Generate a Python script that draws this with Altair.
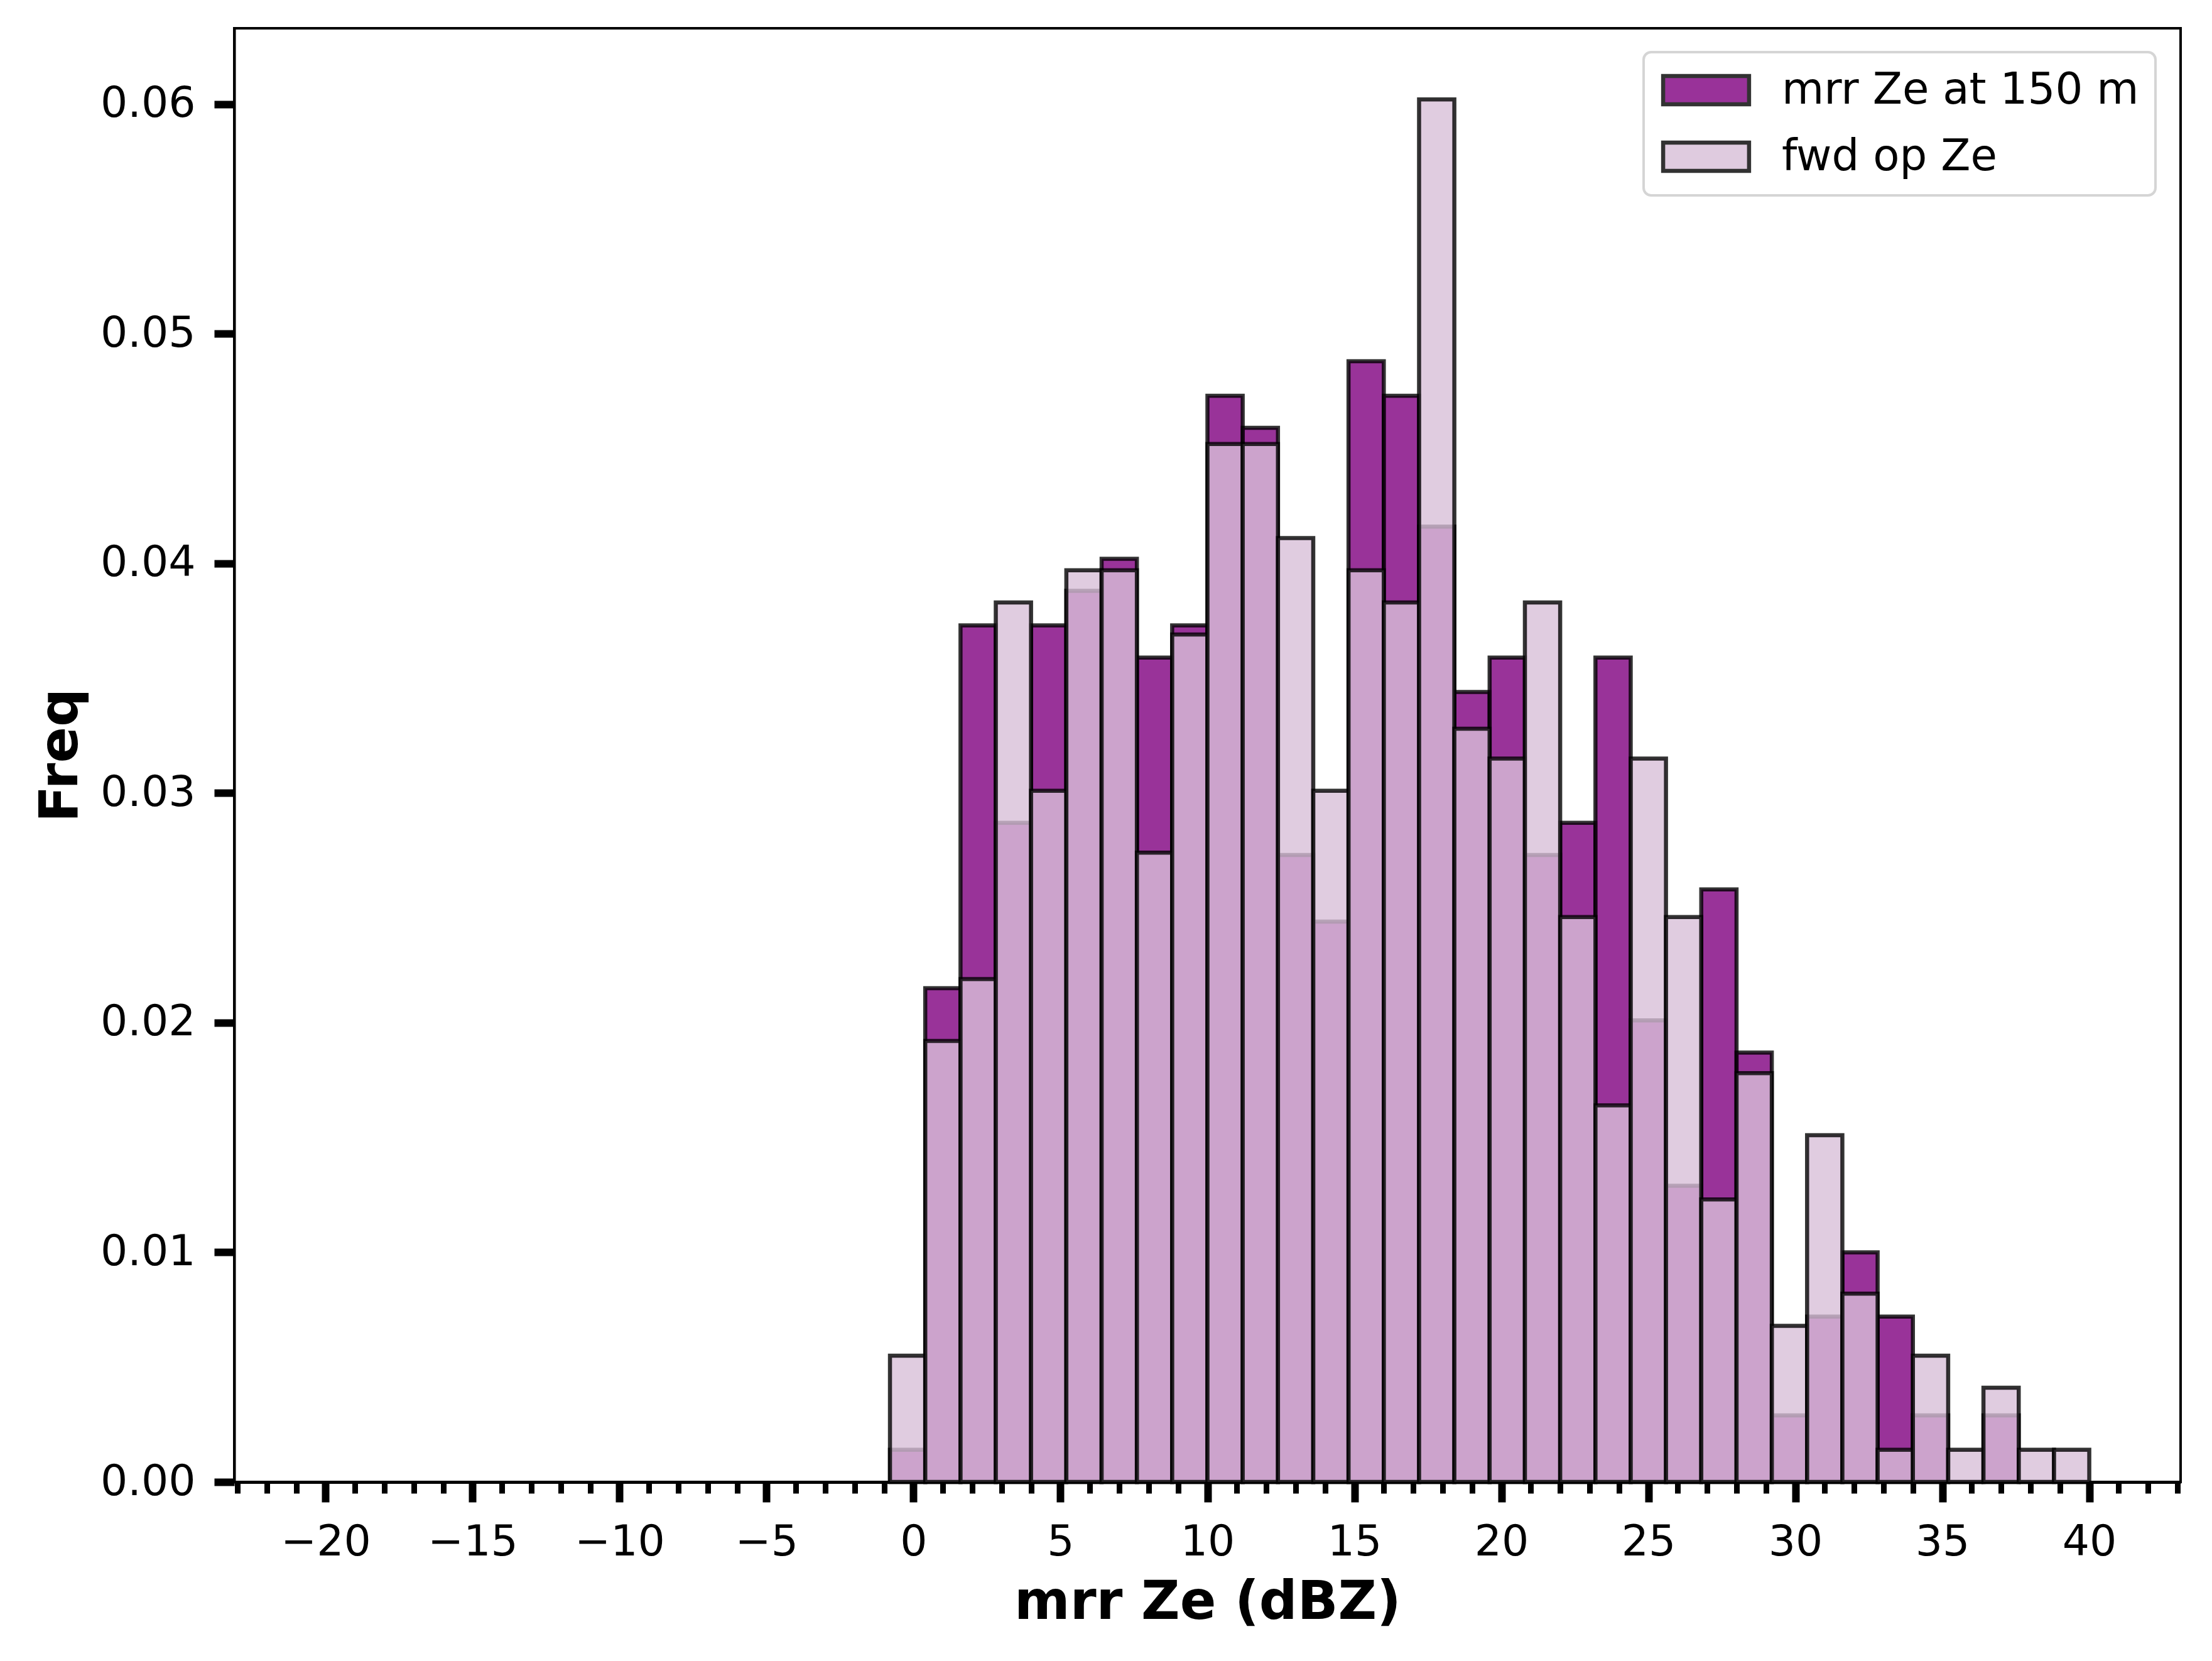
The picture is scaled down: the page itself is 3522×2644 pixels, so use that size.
import altair as alt
import pandas as pd

# histogram bin edges (dBZ)
bin_edges = [-0.8, 0.4, 1.6, 2.8, 4.0, 5.2, 6.4, 7.6, 8.8, 10.0, 11.2, 12.4, 13.6,
             14.8, 16.0, 17.2, 18.4, 19.6, 20.8, 22.0, 23.2, 24.4, 25.6, 26.8, 28.0,
             29.2, 30.4, 31.6, 32.8, 34.0, 35.2, 36.4, 37.6, 38.8, 40.0]

# frequencies
mrr_freq = [0.0014, 0.0215, 0.0373, 0.0287, 0.0373, 0.0388, 0.0402, 0.0359, 0.0373,
            0.0473, 0.0459, 0.0273, 0.0244, 0.0488, 0.0473, 0.0416, 0.0344, 0.0359,
            0.0273, 0.0287, 0.0359, 0.0201, 0.0129, 0.0258, 0.0187, 0.0029, 0.0072,
            0.0100, 0.0072, 0.0029, 0.0, 0.0029, 0.0, 0.0]
fwd_freq = [0.0055, 0.0192, 0.0219, 0.0383, 0.0301, 0.0397, 0.0397, 0.0274, 0.0369,
            0.0452, 0.0452, 0.0411, 0.0301, 0.0397, 0.0383, 0.0602, 0.0328, 0.0315,
            0.0383, 0.0246, 0.0164, 0.0315, 0.0246, 0.0123, 0.0178, 0.0068, 0.0151,
            0.0082, 0.0014, 0.0055, 0.0014, 0.0041, 0.0014, 0.0014]

series_names = ["mrr Ze at 150 m", "fwd op Ze"]
series_colors = ["purple", "thistle"]

x_major = [-20, -15, -10, -5, 0, 5, 10, 15, 20, 25, 30, 35, 40]
x_minor = list(range(-23, 44))
y_ticks = [0.0, 0.01, 0.02, 0.03, 0.04, 0.05, 0.06]

rows = []
for name, vals in zip(series_names, [mrr_freq, fwd_freq]):
    for i, v in enumerate(vals):
        rows.append({"series": name, "order": series_names.index(name),
                     "lo": bin_edges[i], "hi": bin_edges[i + 1], "freq": v})
df = pd.DataFrame(rows)

FONT = "DejaVu Sans"
xscale = alt.Scale(domain=[-23, 43], nice=False, zero=False)
yscale = alt.Scale(domain=[0, 0.0633], nice=False)

y_axis = alt.Axis(values=y_ticks, format=".2f", title="Freq", grid=False,
                  tickSize=32, tickWidth=12, tickColor="black",
                  domainColor="black", domainWidth=4,
                  labelFontSize=68, labelFont=FONT, labelColor="black",
                  labelPadding=30, labelFlush=False,
                  titleFontSize=85, titleFont=FONT, titleFontWeight="bold",
                  titleColor="black", titlePadding=33)

base = alt.Chart(df)

bars = base.mark_bar(fillOpacity=0.8, stroke="black", strokeOpacity=0.8,
                     strokeWidth=6.5, orient="vertical").encode(
    x=alt.X("lo:Q", scale=xscale,
            axis=alt.Axis(values=x_major, title="mrr Ze (dBZ)", orient="bottom",
                          grid=False, tickSize=32, tickWidth=12, tickColor="black",
                          domainColor="black", domainWidth=5,
                          labelFontSize=68, labelFont=FONT, labelColor="black",
                          labelPadding=30, labelFlush=False,
                          titleFontSize=85, titleFont=FONT, titleFontWeight="bold",
                          titleColor="black", titlePadding=20)),
    x2="hi:Q",
    y=alt.Y("freq:Q", scale=yscale, stack=None, axis=y_axis),
    y2=alt.datum(0),
    color=alt.Color("series:N",
                    scale=alt.Scale(domain=series_names, range=series_colors),
                    legend=alt.Legend(title=None, orient="none", legendX=2244,
                                      legendY=38,
                                      symbolType="M-3.04,-1H3.04V1H-3.04Z",
                                      symbolSize=2025, symbolOpacity=0.8,
                                      symbolStrokeColor="black",
                                      symbolStrokeWidth=6.5,
                                      symbolOffset=39,
                                      labelFontSize=69, labelFont=FONT,
                                      labelColor="black", labelOffset=86,
                                      labelLimit=0,
                                      rowPadding=35, padding=26,
                                      strokeColor="#d5d5d5", fillColor="white",
                                      cornerRadius=12)),
    order=alt.Order("order:Q"),
)

minor = base.mark_point(opacity=0).encode(
    x=alt.X("lo:Q", scale=xscale,
            axis=alt.Axis(values=x_minor, labels=False, title=None, orient="bottom",
                          domain=False, grid=False, tickSize=18, tickWidth=9,
                          tickColor="black")),
    y=alt.Y("freq:Q", scale=yscale, axis=y_axis),
)

chart = alt.layer(bars, minor).resolve_axis(x="independent").properties(
    width=3099, height=2314,
    autosize=alt.AutoSizeParams(type="none"),
    padding={"left": 365, "top": 37, "right": 40, "bottom": 270},
    background="white",
).configure_view(stroke="black", strokeWidth=4).configure_legend(strokeWidth=4)

chart.save("out.html", embed_options={"renderer": "svg", "actions": False})
